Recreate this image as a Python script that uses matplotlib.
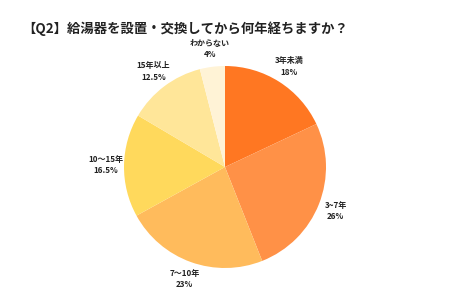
import matplotlib
matplotlib.use("Agg")
import matplotlib.pyplot as plt

labels = ["3年未満", "3~7年", "7～10年", "10～15年", "15年以上", "わからない"]
pct_text = ["18%", "26%", "23%", "16.5%", "12.5%", "4%"]
values = [18, 26, 23, 16.5, 12.5, 4]
colors = ["#FF7722", "#FF9147", "#FFBB5C", "#FFD95C", "#FFE699", "#FFF3D6"]
title = "【Q2】給湯器を設置・交換してから何年経ちますか？"

plt.rcParams['font.family'] = ['Noto Sans CJK JP', 'DejaVu Sans']

fig = plt.figure(figsize=(4.5, 3.0), dpi=100)
ax = fig.add_axes([0, 0, 1, 1])
ax.set_xlim(0, 450)
ax.set_ylim(0, 300)
ax.set_aspect('equal')
ax.axis('off')

texts_lbl = [f"{l}\n{p}" for l, p in zip(labels, pct_text)]
wedges, texts = ax.pie(values, colors=colors, startangle=90, counterclock=False,
                       center=(225, 133), radius=101, labels=texts_lbl,
                       labeldistance=1.18, wedgeprops=dict(linewidth=0),
                       textprops=dict(fontsize=5.8, fontweight='bold', color='#222222',
                                      ha='center', va='center', linespacing=1.35))
for t in texts:
    t.set_ha('center')
ax.set_xlim(0, 450)
ax.set_ylim(0, 300)

fig.text(22 / 450, 1 - 29 / 300, title, fontsize=9.6, fontweight='bold',
         color='#222222', ha='left', va='center')

fig.savefig("out.png", dpi=100, facecolor='white')
